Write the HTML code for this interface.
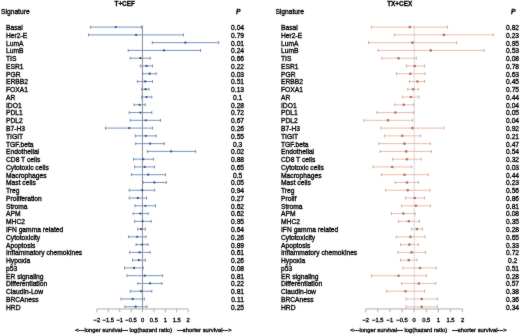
<!DOCTYPE html>
<html><head><meta charset="utf-8"><style>
html,body{margin:0;padding:0;background:#fff;}
svg{display:block;}
text{font-family:"Liberation Sans",sans-serif;fill:#000;stroke:#000;stroke-width:0.32px;}
.tx{font-size:6.7px;}
.tt{font-size:6.4px;font-weight:bold;letter-spacing:0px;}
.ph{font-size:6.7px;font-weight:bold;font-style:italic;}
.tk{font-size:5.8px;}
.xl{font-size:5.85px;}
</style></head><body>
<svg width="520" height="334" viewBox="0 0 520 334">
<defs><filter id="bl" filterUnits="userSpaceOnUse" x="0" y="0" width="520" height="334" color-interpolation-filters="sRGB"><feConvolveMatrix order="3" kernelMatrix="1 2 1 2 32 2 1 2 1" divisor="44" edgeMode="duplicate" preserveAlpha="true"/></filter></defs>
<g filter="url(#bl)">
<rect width="520" height="334" fill="#fff"/>
<text x="124.70" y="5.60" class="tt" text-anchor="middle">T+CEF</text>
<text x="1.00" y="14.20" class="tx">Signature</text>
<text x="238.30" y="14.10" class="ph" text-anchor="middle">P</text>
<text x="6.00" y="30.02" class="tx">Basal</text>
<text x="237.60" y="30.02" class="tx" text-anchor="middle">0.04</text>
<text x="6.00" y="37.79" class="tx">Her2-E</text>
<text x="237.60" y="37.79" class="tx" text-anchor="middle">0.79</text>
<text x="6.00" y="45.56" class="tx">LumA</text>
<text x="237.60" y="45.56" class="tx" text-anchor="middle">0.01</text>
<text x="6.00" y="53.32" class="tx">LumB</text>
<text x="237.60" y="53.32" class="tx" text-anchor="middle">0.24</text>
<text x="6.00" y="61.09" class="tx">TIS</text>
<text x="237.60" y="61.09" class="tx" text-anchor="middle">0.66</text>
<text x="6.00" y="68.86" class="tx">ESR1</text>
<text x="237.60" y="68.86" class="tx" text-anchor="middle">0.22</text>
<text x="6.00" y="76.63" class="tx">PGR</text>
<text x="237.60" y="76.63" class="tx" text-anchor="middle">0.03</text>
<text x="6.00" y="84.40" class="tx">ERBB2</text>
<text x="237.60" y="84.40" class="tx" text-anchor="middle">0.51</text>
<text x="6.00" y="92.16" class="tx">FOXA1</text>
<text x="237.60" y="92.16" class="tx" text-anchor="middle">0.13</text>
<text x="6.00" y="99.93" class="tx">AR</text>
<text x="237.60" y="99.93" class="tx" text-anchor="middle">0.1</text>
<text x="6.00" y="107.70" class="tx">IDO1</text>
<text x="237.60" y="107.70" class="tx" text-anchor="middle">0.28</text>
<text x="6.00" y="115.47" class="tx">PDL1</text>
<text x="237.60" y="115.47" class="tx" text-anchor="middle">0.72</text>
<text x="6.00" y="123.24" class="tx">PDL2</text>
<text x="237.60" y="123.24" class="tx" text-anchor="middle">0.67</text>
<text x="6.00" y="131.00" class="tx">B7-H3</text>
<text x="237.60" y="131.00" class="tx" text-anchor="middle">0.26</text>
<text x="6.00" y="138.77" class="tx">TIGIT</text>
<text x="237.60" y="138.77" class="tx" text-anchor="middle">0.55</text>
<text x="6.00" y="146.54" class="tx">TGF.beta</text>
<text x="237.60" y="146.54" class="tx" text-anchor="middle">0.3</text>
<text x="6.00" y="154.31" class="tx">Endothelial</text>
<text x="237.60" y="154.31" class="tx" text-anchor="middle">0.02</text>
<text x="6.00" y="162.08" class="tx">CD8 T cells</text>
<text x="237.60" y="162.08" class="tx" text-anchor="middle">0.88</text>
<text x="6.00" y="169.84" class="tx">Cytotoxic cells</text>
<text x="237.60" y="169.84" class="tx" text-anchor="middle">0.65</text>
<text x="6.00" y="177.61" class="tx">Macrophages</text>
<text x="237.60" y="177.61" class="tx" text-anchor="middle">0.5</text>
<text x="6.00" y="185.38" class="tx">Mast cells</text>
<text x="237.60" y="185.38" class="tx" text-anchor="middle">0.05</text>
<text x="6.00" y="193.15" class="tx">Treg</text>
<text x="237.60" y="193.15" class="tx" text-anchor="middle">0.94</text>
<text x="6.00" y="200.92" class="tx">Proliferation</text>
<text x="237.60" y="200.92" class="tx" text-anchor="middle">0.27</text>
<text x="6.00" y="208.68" class="tx">Stroma</text>
<text x="237.60" y="208.68" class="tx" text-anchor="middle">0.62</text>
<text x="6.00" y="216.45" class="tx">APM</text>
<text x="237.60" y="216.45" class="tx" text-anchor="middle">0.62</text>
<text x="6.00" y="224.22" class="tx">MHC2</text>
<text x="237.60" y="224.22" class="tx" text-anchor="middle">0.95</text>
<text x="6.00" y="231.99" class="tx">IFN gamma related</text>
<text x="237.60" y="231.99" class="tx" text-anchor="middle">0.64</text>
<text x="6.00" y="239.76" class="tx">Cytotoxicity</text>
<text x="237.60" y="239.76" class="tx" text-anchor="middle">0.26</text>
<text x="6.00" y="247.52" class="tx">Apoptosis</text>
<text x="237.60" y="247.52" class="tx" text-anchor="middle">0.89</text>
<text x="6.00" y="255.29" class="tx">Inflammatory chemokines</text>
<text x="237.60" y="255.29" class="tx" text-anchor="middle">0.61</text>
<text x="6.00" y="263.06" class="tx">Hypoxia</text>
<text x="237.60" y="263.06" class="tx" text-anchor="middle">0.26</text>
<text x="6.00" y="270.83" class="tx">p53</text>
<text x="237.60" y="270.83" class="tx" text-anchor="middle">0.08</text>
<text x="6.00" y="278.60" class="tx">ER signaling</text>
<text x="237.60" y="278.60" class="tx" text-anchor="middle">0.81</text>
<text x="6.00" y="286.36" class="tx">Differentiation</text>
<text x="237.60" y="286.36" class="tx" text-anchor="middle">0.22</text>
<text x="6.00" y="294.13" class="tx">Claudin-Low</text>
<text x="237.60" y="294.13" class="tx" text-anchor="middle">0.81</text>
<text x="6.00" y="301.90" class="tx">BRCAness</text>
<text x="237.60" y="301.90" class="tx" text-anchor="middle">0.11</text>
<text x="6.00" y="309.67" class="tx">HRD</text>
<text x="237.60" y="309.67" class="tx" text-anchor="middle">0.25</text>
<line x1="142.45" y1="25.60" x2="142.45" y2="308.95" stroke="#6c7078" stroke-width="0.8"/>
<line x1="90.40" y1="27.12" x2="141.60" y2="27.12" stroke="#7394c8" stroke-width="1.0"/>
<line x1="90.40" y1="25.62" x2="90.40" y2="28.62" stroke="#6a7488" stroke-width="0.8"/>
<line x1="141.60" y1="25.62" x2="141.60" y2="28.62" stroke="#6a7488" stroke-width="0.8"/>
<circle cx="115.80" cy="27.12" r="1.15" fill="#35508a"/>
<line x1="88.60" y1="34.89" x2="183.40" y2="34.89" stroke="#7394c8" stroke-width="1.0"/>
<line x1="88.60" y1="33.39" x2="88.60" y2="36.39" stroke="#6a7488" stroke-width="0.8"/>
<line x1="183.40" y1="33.39" x2="183.40" y2="36.39" stroke="#6a7488" stroke-width="0.8"/>
<circle cx="136.10" cy="34.89" r="1.15" fill="#35508a"/>
<line x1="152.30" y1="42.66" x2="218.70" y2="42.66" stroke="#7394c8" stroke-width="1.0"/>
<line x1="152.30" y1="41.16" x2="152.30" y2="44.16" stroke="#6a7488" stroke-width="0.8"/>
<line x1="218.70" y1="41.16" x2="218.70" y2="44.16" stroke="#6a7488" stroke-width="0.8"/>
<circle cx="185.40" cy="42.66" r="1.15" fill="#35508a"/>
<line x1="128.20" y1="50.42" x2="200.50" y2="50.42" stroke="#7394c8" stroke-width="1.0"/>
<line x1="128.20" y1="48.92" x2="128.20" y2="51.92" stroke="#6a7488" stroke-width="0.8"/>
<line x1="200.50" y1="48.92" x2="200.50" y2="51.92" stroke="#6a7488" stroke-width="0.8"/>
<circle cx="164.00" cy="50.42" r="1.15" fill="#35508a"/>
<line x1="130.30" y1="58.19" x2="150.30" y2="58.19" stroke="#7394c8" stroke-width="1.0"/>
<line x1="130.30" y1="56.69" x2="130.30" y2="59.69" stroke="#6a7488" stroke-width="0.8"/>
<line x1="150.30" y1="56.69" x2="150.30" y2="59.69" stroke="#6a7488" stroke-width="0.8"/>
<circle cx="140.40" cy="58.19" r="1.15" fill="#35508a"/>
<line x1="140.40" y1="65.96" x2="152.50" y2="65.96" stroke="#7394c8" stroke-width="1.0"/>
<line x1="140.40" y1="64.46" x2="140.40" y2="67.46" stroke="#6a7488" stroke-width="0.8"/>
<line x1="152.50" y1="64.46" x2="152.50" y2="67.46" stroke="#6a7488" stroke-width="0.8"/>
<circle cx="146.50" cy="65.96" r="1.15" fill="#35508a"/>
<line x1="142.60" y1="73.73" x2="156.20" y2="73.73" stroke="#7394c8" stroke-width="1.0"/>
<line x1="142.60" y1="72.23" x2="142.60" y2="75.23" stroke="#6a7488" stroke-width="0.8"/>
<line x1="156.20" y1="72.23" x2="156.20" y2="75.23" stroke="#6a7488" stroke-width="0.8"/>
<circle cx="149.70" cy="73.73" r="1.15" fill="#35508a"/>
<line x1="137.40" y1="81.50" x2="152.50" y2="81.50" stroke="#7394c8" stroke-width="1.0"/>
<line x1="137.40" y1="80.00" x2="137.40" y2="83.00" stroke="#6a7488" stroke-width="0.8"/>
<line x1="152.50" y1="80.00" x2="152.50" y2="83.00" stroke="#6a7488" stroke-width="0.8"/>
<circle cx="145.20" cy="81.50" r="1.15" fill="#35508a"/>
<line x1="141.70" y1="89.26" x2="149.00" y2="89.26" stroke="#7394c8" stroke-width="1.0"/>
<line x1="141.70" y1="87.76" x2="141.70" y2="90.76" stroke="#6a7488" stroke-width="0.8"/>
<line x1="149.00" y1="87.76" x2="149.00" y2="90.76" stroke="#6a7488" stroke-width="0.8"/>
<circle cx="145.60" cy="89.26" r="1.15" fill="#35508a"/>
<line x1="141.70" y1="97.03" x2="151.80" y2="97.03" stroke="#7394c8" stroke-width="1.0"/>
<line x1="141.70" y1="95.53" x2="141.70" y2="98.53" stroke="#6a7488" stroke-width="0.8"/>
<line x1="151.80" y1="95.53" x2="151.80" y2="98.53" stroke="#6a7488" stroke-width="0.8"/>
<circle cx="146.50" cy="97.03" r="1.15" fill="#35508a"/>
<line x1="134.00" y1="104.80" x2="145.20" y2="104.80" stroke="#7394c8" stroke-width="1.0"/>
<line x1="134.00" y1="103.30" x2="134.00" y2="106.30" stroke="#6a7488" stroke-width="0.8"/>
<line x1="145.20" y1="103.30" x2="145.20" y2="106.30" stroke="#6a7488" stroke-width="0.8"/>
<circle cx="139.60" cy="104.80" r="1.15" fill="#35508a"/>
<line x1="129.20" y1="112.57" x2="151.80" y2="112.57" stroke="#7394c8" stroke-width="1.0"/>
<line x1="129.20" y1="111.07" x2="129.20" y2="114.07" stroke="#6a7488" stroke-width="0.8"/>
<line x1="151.80" y1="111.07" x2="151.80" y2="114.07" stroke="#6a7488" stroke-width="0.8"/>
<circle cx="140.40" cy="112.57" r="1.15" fill="#35508a"/>
<line x1="130.30" y1="120.34" x2="160.50" y2="120.34" stroke="#7394c8" stroke-width="1.0"/>
<line x1="130.30" y1="118.84" x2="130.30" y2="121.84" stroke="#6a7488" stroke-width="0.8"/>
<line x1="160.50" y1="118.84" x2="160.50" y2="121.84" stroke="#6a7488" stroke-width="0.8"/>
<circle cx="145.80" cy="120.34" r="1.15" fill="#35508a"/>
<line x1="105.50" y1="128.10" x2="152.50" y2="128.10" stroke="#7394c8" stroke-width="1.0"/>
<line x1="105.50" y1="126.60" x2="105.50" y2="129.60" stroke="#6a7488" stroke-width="0.8"/>
<line x1="152.50" y1="126.60" x2="152.50" y2="129.60" stroke="#6a7488" stroke-width="0.8"/>
<circle cx="129.20" cy="128.10" r="1.15" fill="#35508a"/>
<line x1="135.30" y1="135.87" x2="156.20" y2="135.87" stroke="#7394c8" stroke-width="1.0"/>
<line x1="135.30" y1="134.37" x2="135.30" y2="137.37" stroke="#6a7488" stroke-width="0.8"/>
<line x1="156.20" y1="134.37" x2="156.20" y2="137.37" stroke="#6a7488" stroke-width="0.8"/>
<circle cx="145.80" cy="135.87" r="1.15" fill="#35508a"/>
<line x1="135.70" y1="143.64" x2="164.30" y2="143.64" stroke="#7394c8" stroke-width="1.0"/>
<line x1="135.70" y1="142.14" x2="135.70" y2="145.14" stroke="#6a7488" stroke-width="0.8"/>
<line x1="164.30" y1="142.14" x2="164.30" y2="145.14" stroke="#6a7488" stroke-width="0.8"/>
<circle cx="150.10" cy="143.64" r="1.15" fill="#35508a"/>
<line x1="147.50" y1="151.41" x2="195.60" y2="151.41" stroke="#7394c8" stroke-width="1.0"/>
<line x1="147.50" y1="149.91" x2="147.50" y2="152.91" stroke="#6a7488" stroke-width="0.8"/>
<line x1="195.60" y1="149.91" x2="195.60" y2="152.91" stroke="#6a7488" stroke-width="0.8"/>
<circle cx="171.20" cy="151.41" r="1.15" fill="#35508a"/>
<line x1="133.50" y1="159.18" x2="153.40" y2="159.18" stroke="#7394c8" stroke-width="1.0"/>
<line x1="133.50" y1="157.68" x2="133.50" y2="160.68" stroke="#6a7488" stroke-width="0.8"/>
<line x1="153.40" y1="157.68" x2="153.40" y2="160.68" stroke="#6a7488" stroke-width="0.8"/>
<circle cx="143.20" cy="159.18" r="1.15" fill="#35508a"/>
<line x1="134.60" y1="166.94" x2="154.60" y2="166.94" stroke="#7394c8" stroke-width="1.0"/>
<line x1="134.60" y1="165.44" x2="134.60" y2="168.44" stroke="#6a7488" stroke-width="0.8"/>
<line x1="154.60" y1="165.44" x2="154.60" y2="168.44" stroke="#6a7488" stroke-width="0.8"/>
<circle cx="144.70" cy="166.94" r="1.15" fill="#35508a"/>
<line x1="131.40" y1="174.71" x2="165.40" y2="174.71" stroke="#7394c8" stroke-width="1.0"/>
<line x1="131.40" y1="173.21" x2="131.40" y2="176.21" stroke="#6a7488" stroke-width="0.8"/>
<line x1="165.40" y1="173.21" x2="165.40" y2="176.21" stroke="#6a7488" stroke-width="0.8"/>
<circle cx="148.20" cy="174.71" r="1.15" fill="#35508a"/>
<line x1="143.20" y1="182.48" x2="166.30" y2="182.48" stroke="#7394c8" stroke-width="1.0"/>
<line x1="143.20" y1="180.98" x2="143.20" y2="183.98" stroke="#6a7488" stroke-width="0.8"/>
<line x1="166.30" y1="180.98" x2="166.30" y2="183.98" stroke="#6a7488" stroke-width="0.8"/>
<circle cx="154.40" cy="182.48" r="1.15" fill="#35508a"/>
<line x1="129.20" y1="190.25" x2="154.60" y2="190.25" stroke="#7394c8" stroke-width="1.0"/>
<line x1="129.20" y1="188.75" x2="129.20" y2="191.75" stroke="#6a7488" stroke-width="0.8"/>
<line x1="154.60" y1="188.75" x2="154.60" y2="191.75" stroke="#6a7488" stroke-width="0.8"/>
<circle cx="142.20" cy="190.25" r="1.15" fill="#35508a"/>
<line x1="129.20" y1="198.02" x2="146.50" y2="198.02" stroke="#7394c8" stroke-width="1.0"/>
<line x1="129.20" y1="196.52" x2="129.20" y2="199.52" stroke="#6a7488" stroke-width="0.8"/>
<line x1="146.50" y1="196.52" x2="146.50" y2="199.52" stroke="#6a7488" stroke-width="0.8"/>
<circle cx="137.80" cy="198.02" r="1.15" fill="#35508a"/>
<line x1="135.00" y1="205.78" x2="155.50" y2="205.78" stroke="#7394c8" stroke-width="1.0"/>
<line x1="135.00" y1="204.28" x2="135.00" y2="207.28" stroke="#6a7488" stroke-width="0.8"/>
<line x1="155.50" y1="204.28" x2="155.50" y2="207.28" stroke="#6a7488" stroke-width="0.8"/>
<circle cx="145.40" cy="205.78" r="1.15" fill="#35508a"/>
<line x1="133.10" y1="213.55" x2="148.20" y2="213.55" stroke="#7394c8" stroke-width="1.0"/>
<line x1="133.10" y1="212.05" x2="133.10" y2="215.05" stroke="#6a7488" stroke-width="0.8"/>
<line x1="148.20" y1="212.05" x2="148.20" y2="215.05" stroke="#6a7488" stroke-width="0.8"/>
<circle cx="140.40" cy="213.55" r="1.15" fill="#35508a"/>
<line x1="134.60" y1="221.32" x2="151.20" y2="221.32" stroke="#7394c8" stroke-width="1.0"/>
<line x1="134.60" y1="219.82" x2="134.60" y2="222.82" stroke="#6a7488" stroke-width="0.8"/>
<line x1="151.20" y1="219.82" x2="151.20" y2="222.82" stroke="#6a7488" stroke-width="0.8"/>
<circle cx="142.60" cy="221.32" r="1.15" fill="#35508a"/>
<line x1="137.80" y1="229.09" x2="145.40" y2="229.09" stroke="#7394c8" stroke-width="1.0"/>
<line x1="137.80" y1="227.59" x2="137.80" y2="230.59" stroke="#6a7488" stroke-width="0.8"/>
<line x1="145.40" y1="227.59" x2="145.40" y2="230.59" stroke="#6a7488" stroke-width="0.8"/>
<circle cx="141.20" cy="229.09" r="1.15" fill="#35508a"/>
<line x1="128.60" y1="236.86" x2="146.00" y2="236.86" stroke="#7394c8" stroke-width="1.0"/>
<line x1="128.60" y1="235.36" x2="128.60" y2="238.36" stroke="#6a7488" stroke-width="0.8"/>
<line x1="146.00" y1="235.36" x2="146.00" y2="238.36" stroke="#6a7488" stroke-width="0.8"/>
<circle cx="137.20" cy="236.86" r="1.15" fill="#35508a"/>
<line x1="136.10" y1="244.62" x2="148.00" y2="244.62" stroke="#7394c8" stroke-width="1.0"/>
<line x1="136.10" y1="243.12" x2="136.10" y2="246.12" stroke="#6a7488" stroke-width="0.8"/>
<line x1="148.00" y1="243.12" x2="148.00" y2="246.12" stroke="#6a7488" stroke-width="0.8"/>
<circle cx="142.20" cy="244.62" r="1.15" fill="#35508a"/>
<line x1="129.70" y1="252.39" x2="150.10" y2="252.39" stroke="#7394c8" stroke-width="1.0"/>
<line x1="129.70" y1="250.89" x2="129.70" y2="253.89" stroke="#6a7488" stroke-width="0.8"/>
<line x1="150.10" y1="250.89" x2="150.10" y2="253.89" stroke="#6a7488" stroke-width="0.8"/>
<circle cx="139.60" cy="252.39" r="1.15" fill="#35508a"/>
<line x1="132.50" y1="260.16" x2="145.40" y2="260.16" stroke="#7394c8" stroke-width="1.0"/>
<line x1="132.50" y1="258.66" x2="132.50" y2="261.66" stroke="#6a7488" stroke-width="0.8"/>
<line x1="145.40" y1="258.66" x2="145.40" y2="261.66" stroke="#6a7488" stroke-width="0.8"/>
<circle cx="138.90" cy="260.16" r="1.15" fill="#35508a"/>
<line x1="124.50" y1="267.93" x2="143.20" y2="267.93" stroke="#7394c8" stroke-width="1.0"/>
<line x1="124.50" y1="266.43" x2="124.50" y2="269.43" stroke="#6a7488" stroke-width="0.8"/>
<line x1="143.20" y1="266.43" x2="143.20" y2="269.43" stroke="#6a7488" stroke-width="0.8"/>
<circle cx="134.00" cy="267.93" r="1.15" fill="#35508a"/>
<line x1="127.10" y1="275.70" x2="162.60" y2="275.70" stroke="#7394c8" stroke-width="1.0"/>
<line x1="127.10" y1="274.20" x2="127.10" y2="277.20" stroke="#6a7488" stroke-width="0.8"/>
<line x1="162.60" y1="274.20" x2="162.60" y2="277.20" stroke="#6a7488" stroke-width="0.8"/>
<circle cx="144.70" cy="275.70" r="1.15" fill="#35508a"/>
<line x1="137.80" y1="283.46" x2="162.00" y2="283.46" stroke="#7394c8" stroke-width="1.0"/>
<line x1="137.80" y1="281.96" x2="137.80" y2="284.96" stroke="#6a7488" stroke-width="0.8"/>
<line x1="162.00" y1="281.96" x2="162.00" y2="284.96" stroke="#6a7488" stroke-width="0.8"/>
<circle cx="150.10" cy="283.46" r="1.15" fill="#35508a"/>
<line x1="130.30" y1="291.23" x2="151.80" y2="291.23" stroke="#7394c8" stroke-width="1.0"/>
<line x1="130.30" y1="289.73" x2="130.30" y2="292.73" stroke="#6a7488" stroke-width="0.8"/>
<line x1="151.80" y1="289.73" x2="151.80" y2="292.73" stroke="#6a7488" stroke-width="0.8"/>
<circle cx="141.30" cy="291.23" r="1.15" fill="#35508a"/>
<line x1="121.00" y1="299.00" x2="144.30" y2="299.00" stroke="#7394c8" stroke-width="1.0"/>
<line x1="121.00" y1="297.50" x2="121.00" y2="300.50" stroke="#6a7488" stroke-width="0.8"/>
<line x1="144.30" y1="297.50" x2="144.30" y2="300.50" stroke="#6a7488" stroke-width="0.8"/>
<circle cx="132.70" cy="299.00" r="1.15" fill="#35508a"/>
<line x1="124.90" y1="306.77" x2="146.90" y2="306.77" stroke="#7394c8" stroke-width="1.0"/>
<line x1="124.90" y1="305.27" x2="124.90" y2="308.27" stroke="#6a7488" stroke-width="0.8"/>
<line x1="146.90" y1="305.27" x2="146.90" y2="308.27" stroke="#6a7488" stroke-width="0.8"/>
<circle cx="135.70" cy="306.77" r="1.15" fill="#35508a"/>
<line x1="96.90" y1="308.95" x2="188.10" y2="308.95" stroke="#999" stroke-width="0.8"/>
<line x1="96.90" y1="308.95" x2="96.90" y2="312.25" stroke="#999" stroke-width="0.8"/>
<text x="96.90" y="321.60" class="tk" text-anchor="middle">&#8722;2</text>
<line x1="108.30" y1="308.95" x2="108.30" y2="312.25" stroke="#999" stroke-width="0.8"/>
<text x="108.30" y="321.60" class="tk" text-anchor="middle">&#8722;1.5</text>
<line x1="119.70" y1="308.95" x2="119.70" y2="312.25" stroke="#999" stroke-width="0.8"/>
<text x="119.70" y="321.60" class="tk" text-anchor="middle">&#8722;1</text>
<line x1="131.10" y1="308.95" x2="131.10" y2="312.25" stroke="#999" stroke-width="0.8"/>
<text x="131.10" y="321.60" class="tk" text-anchor="middle">&#8722;0.5</text>
<line x1="142.50" y1="308.95" x2="142.50" y2="312.25" stroke="#999" stroke-width="0.8"/>
<text x="142.50" y="321.60" class="tk" text-anchor="middle">0</text>
<line x1="153.90" y1="308.95" x2="153.90" y2="312.25" stroke="#999" stroke-width="0.8"/>
<text x="153.90" y="321.60" class="tk" text-anchor="middle">0.5</text>
<line x1="165.30" y1="308.95" x2="165.30" y2="312.25" stroke="#999" stroke-width="0.8"/>
<text x="165.30" y="321.60" class="tk" text-anchor="middle">1</text>
<line x1="176.70" y1="308.95" x2="176.70" y2="312.25" stroke="#999" stroke-width="0.8"/>
<text x="176.70" y="321.60" class="tk" text-anchor="middle">1.5</text>
<line x1="188.10" y1="308.95" x2="188.10" y2="312.25" stroke="#999" stroke-width="0.8"/>
<text x="188.10" y="321.60" class="tk" text-anchor="middle">2</text>
<text x="75.20" y="331.50" class="xl" xml:space="preserve">&lt;---longer survival--- log(hazard ratio)   ---shorter survival---&gt;</text>
<text x="399.70" y="5.60" class="tt" text-anchor="middle">TX+CEX</text>
<text x="275.40" y="14.20" class="tx">Signature</text>
<text x="513.30" y="14.10" class="ph" text-anchor="middle">P</text>
<text x="281.00" y="30.02" class="tx">Basal</text>
<text x="512.60" y="30.02" class="tx" text-anchor="middle">0.82</text>
<text x="281.00" y="37.79" class="tx">Her2-E</text>
<text x="512.60" y="37.79" class="tx" text-anchor="middle">0.23</text>
<text x="281.00" y="45.56" class="tx">LumA</text>
<text x="512.60" y="45.56" class="tx" text-anchor="middle">0.95</text>
<text x="281.00" y="53.32" class="tx">LumB</text>
<text x="512.60" y="53.32" class="tx" text-anchor="middle">0.53</text>
<text x="281.00" y="61.09" class="tx">TIS</text>
<text x="512.60" y="61.09" class="tx" text-anchor="middle">0.08</text>
<text x="281.00" y="68.86" class="tx">ESR1</text>
<text x="512.60" y="68.86" class="tx" text-anchor="middle">0.78</text>
<text x="281.00" y="76.63" class="tx">PGR</text>
<text x="512.60" y="76.63" class="tx" text-anchor="middle">0.63</text>
<text x="281.00" y="84.40" class="tx">ERBB2</text>
<text x="512.60" y="84.40" class="tx" text-anchor="middle">0.45</text>
<text x="281.00" y="92.16" class="tx">FOXA1</text>
<text x="512.60" y="92.16" class="tx" text-anchor="middle">0.75</text>
<text x="281.00" y="99.93" class="tx">AR</text>
<text x="512.60" y="99.93" class="tx" text-anchor="middle">0.44</text>
<text x="281.00" y="107.70" class="tx">IDO1</text>
<text x="512.60" y="107.70" class="tx" text-anchor="middle">0.04</text>
<text x="281.00" y="115.47" class="tx">PDL1</text>
<text x="512.60" y="115.47" class="tx" text-anchor="middle">0.05</text>
<text x="281.00" y="123.24" class="tx">PDL2</text>
<text x="512.60" y="123.24" class="tx" text-anchor="middle">0.04</text>
<text x="281.00" y="131.00" class="tx">B7-H3</text>
<text x="512.60" y="131.00" class="tx" text-anchor="middle">0.92</text>
<text x="281.00" y="138.77" class="tx">TIGIT</text>
<text x="512.60" y="138.77" class="tx" text-anchor="middle">0.21</text>
<text x="281.00" y="146.54" class="tx">TGF.beta</text>
<text x="512.60" y="146.54" class="tx" text-anchor="middle">0.47</text>
<text x="281.00" y="154.31" class="tx">Endothelial</text>
<text x="512.60" y="154.31" class="tx" text-anchor="middle">0.54</text>
<text x="281.00" y="162.08" class="tx">CD8 T cells</text>
<text x="512.60" y="162.08" class="tx" text-anchor="middle">0.32</text>
<text x="281.00" y="169.84" class="tx">Cytotoxic cells</text>
<text x="512.60" y="169.84" class="tx" text-anchor="middle">0.03</text>
<text x="281.00" y="177.61" class="tx">Macrophages</text>
<text x="512.60" y="177.61" class="tx" text-anchor="middle">0.44</text>
<text x="281.00" y="185.38" class="tx">Mast cells</text>
<text x="512.60" y="185.38" class="tx" text-anchor="middle">0.23</text>
<text x="281.00" y="193.15" class="tx">Treg</text>
<text x="512.60" y="193.15" class="tx" text-anchor="middle">0.56</text>
<text x="281.00" y="200.92" class="tx">Prolif</text>
<text x="512.60" y="200.92" class="tx" text-anchor="middle">0.86</text>
<text x="281.00" y="208.68" class="tx">Stroma</text>
<text x="512.60" y="208.68" class="tx" text-anchor="middle">0.81</text>
<text x="281.00" y="216.45" class="tx">APM</text>
<text x="512.60" y="216.45" class="tx" text-anchor="middle">0.08</text>
<text x="281.00" y="224.22" class="tx">MHC2</text>
<text x="512.60" y="224.22" class="tx" text-anchor="middle">0.35</text>
<text x="281.00" y="231.99" class="tx">IFN gamma related</text>
<text x="512.60" y="231.99" class="tx" text-anchor="middle">0.28</text>
<text x="281.00" y="239.76" class="tx">Cytotoxicity</text>
<text x="512.60" y="239.76" class="tx" text-anchor="middle">0.65</text>
<text x="281.00" y="247.52" class="tx">Apoptosis</text>
<text x="512.60" y="247.52" class="tx" text-anchor="middle">0.33</text>
<text x="281.00" y="255.29" class="tx">Inflammatory chemokines</text>
<text x="512.60" y="255.29" class="tx" text-anchor="middle">0.72</text>
<text x="281.00" y="263.06" class="tx">Hypoxia</text>
<text x="512.60" y="263.06" class="tx" text-anchor="middle">0.2</text>
<text x="281.00" y="270.83" class="tx">p53</text>
<text x="512.60" y="270.83" class="tx" text-anchor="middle">0.51</text>
<text x="281.00" y="278.60" class="tx">ER signaling</text>
<text x="512.60" y="278.60" class="tx" text-anchor="middle">0.28</text>
<text x="281.00" y="286.36" class="tx">Differentiation</text>
<text x="512.60" y="286.36" class="tx" text-anchor="middle">0.57</text>
<text x="281.00" y="294.13" class="tx">Claudin-low</text>
<text x="512.60" y="294.13" class="tx" text-anchor="middle">0.38</text>
<text x="281.00" y="301.90" class="tx">BRCAness</text>
<text x="512.60" y="301.90" class="tx" text-anchor="middle">0.36</text>
<text x="281.00" y="309.67" class="tx">HRD</text>
<text x="512.60" y="309.67" class="tx" text-anchor="middle">0.34</text>
<line x1="414.20" y1="25.60" x2="414.20" y2="308.95" stroke="#b4bccc" stroke-width="0.6"/>
<line x1="371.40" y1="27.12" x2="447.50" y2="27.12" stroke="#eeae94" stroke-width="0.85"/>
<line x1="371.40" y1="25.62" x2="371.40" y2="28.62" stroke="#b0a098" stroke-width="0.8"/>
<line x1="447.50" y1="25.62" x2="447.50" y2="28.62" stroke="#b0a098" stroke-width="0.8"/>
<circle cx="409.80" cy="27.12" r="1.3" fill="#b0705e"/>
<line x1="394.40" y1="34.89" x2="493.30" y2="34.89" stroke="#eeae94" stroke-width="0.85"/>
<line x1="394.40" y1="33.39" x2="394.40" y2="36.39" stroke="#b0a098" stroke-width="0.8"/>
<line x1="493.30" y1="33.39" x2="493.30" y2="36.39" stroke="#b0a098" stroke-width="0.8"/>
<circle cx="443.90" cy="34.89" r="1.3" fill="#b0705e"/>
<line x1="368.50" y1="42.66" x2="456.70" y2="42.66" stroke="#eeae94" stroke-width="0.85"/>
<line x1="368.50" y1="41.16" x2="368.50" y2="44.16" stroke="#b0a098" stroke-width="0.8"/>
<line x1="456.70" y1="41.16" x2="456.70" y2="44.16" stroke="#b0a098" stroke-width="0.8"/>
<circle cx="412.40" cy="42.66" r="1.3" fill="#b0705e"/>
<line x1="378.00" y1="50.42" x2="484.00" y2="50.42" stroke="#eeae94" stroke-width="0.85"/>
<line x1="378.00" y1="48.92" x2="378.00" y2="51.92" stroke="#b0a098" stroke-width="0.8"/>
<line x1="484.00" y1="48.92" x2="484.00" y2="51.92" stroke="#b0a098" stroke-width="0.8"/>
<circle cx="430.80" cy="50.42" r="1.3" fill="#b0705e"/>
<line x1="381.80" y1="58.19" x2="416.30" y2="58.19" stroke="#eeae94" stroke-width="0.85"/>
<line x1="381.80" y1="56.69" x2="381.80" y2="59.69" stroke="#b0a098" stroke-width="0.8"/>
<line x1="416.30" y1="56.69" x2="416.30" y2="59.69" stroke="#b0a098" stroke-width="0.8"/>
<circle cx="398.60" cy="58.19" r="1.3" fill="#b0705e"/>
<line x1="406.60" y1="65.96" x2="424.50" y2="65.96" stroke="#eeae94" stroke-width="0.85"/>
<line x1="406.60" y1="64.46" x2="406.60" y2="67.46" stroke="#b0a098" stroke-width="0.8"/>
<line x1="424.50" y1="64.46" x2="424.50" y2="67.46" stroke="#b0a098" stroke-width="0.8"/>
<circle cx="414.80" cy="65.96" r="1.3" fill="#b0705e"/>
<line x1="396.50" y1="73.73" x2="424.90" y2="73.73" stroke="#eeae94" stroke-width="0.85"/>
<line x1="396.50" y1="72.23" x2="396.50" y2="75.23" stroke="#b0a098" stroke-width="0.8"/>
<line x1="424.90" y1="72.23" x2="424.90" y2="75.23" stroke="#b0a098" stroke-width="0.8"/>
<circle cx="410.30" cy="73.73" r="1.3" fill="#b0705e"/>
<line x1="409.40" y1="81.50" x2="424.50" y2="81.50" stroke="#eeae94" stroke-width="0.85"/>
<line x1="409.40" y1="80.00" x2="409.40" y2="83.00" stroke="#b0a098" stroke-width="0.8"/>
<line x1="424.50" y1="80.00" x2="424.50" y2="83.00" stroke="#b0a098" stroke-width="0.8"/>
<circle cx="417.40" cy="81.50" r="1.3" fill="#b0705e"/>
<line x1="407.70" y1="89.26" x2="418.50" y2="89.26" stroke="#eeae94" stroke-width="0.85"/>
<line x1="407.70" y1="87.76" x2="407.70" y2="90.76" stroke="#b0a098" stroke-width="0.8"/>
<line x1="418.50" y1="87.76" x2="418.50" y2="90.76" stroke="#b0a098" stroke-width="0.8"/>
<circle cx="413.10" cy="89.26" r="1.3" fill="#b0705e"/>
<line x1="402.70" y1="97.03" x2="418.90" y2="97.03" stroke="#eeae94" stroke-width="0.85"/>
<line x1="402.70" y1="95.53" x2="402.70" y2="98.53" stroke="#b0a098" stroke-width="0.8"/>
<line x1="418.90" y1="95.53" x2="418.90" y2="98.53" stroke="#b0a098" stroke-width="0.8"/>
<circle cx="410.90" cy="97.03" r="1.3" fill="#b0705e"/>
<line x1="394.80" y1="104.80" x2="413.50" y2="104.80" stroke="#eeae94" stroke-width="0.85"/>
<line x1="394.80" y1="103.30" x2="394.80" y2="106.30" stroke="#b0a098" stroke-width="0.8"/>
<line x1="413.50" y1="103.30" x2="413.50" y2="106.30" stroke="#b0a098" stroke-width="0.8"/>
<circle cx="403.80" cy="104.80" r="1.3" fill="#b0705e"/>
<line x1="376.90" y1="112.57" x2="413.70" y2="112.57" stroke="#eeae94" stroke-width="0.85"/>
<line x1="376.90" y1="111.07" x2="376.90" y2="114.07" stroke="#b0a098" stroke-width="0.8"/>
<line x1="413.70" y1="111.07" x2="413.70" y2="114.07" stroke="#b0a098" stroke-width="0.8"/>
<circle cx="395.40" cy="112.57" r="1.3" fill="#b0705e"/>
<line x1="364.00" y1="120.34" x2="412.40" y2="120.34" stroke="#eeae94" stroke-width="0.85"/>
<line x1="364.00" y1="118.84" x2="364.00" y2="121.84" stroke="#b0a098" stroke-width="0.8"/>
<line x1="412.40" y1="118.84" x2="412.40" y2="121.84" stroke="#b0a098" stroke-width="0.8"/>
<circle cx="387.90" cy="120.34" r="1.3" fill="#b0705e"/>
<line x1="380.80" y1="128.10" x2="443.90" y2="128.10" stroke="#eeae94" stroke-width="0.85"/>
<line x1="380.80" y1="126.60" x2="380.80" y2="129.60" stroke="#b0a098" stroke-width="0.8"/>
<line x1="443.90" y1="126.60" x2="443.90" y2="129.60" stroke="#b0a098" stroke-width="0.8"/>
<circle cx="412.40" cy="128.10" r="1.3" fill="#b0705e"/>
<line x1="384.40" y1="135.87" x2="420.60" y2="135.87" stroke="#eeae94" stroke-width="0.85"/>
<line x1="384.40" y1="134.37" x2="384.40" y2="137.37" stroke="#b0a098" stroke-width="0.8"/>
<line x1="420.60" y1="134.37" x2="420.60" y2="137.37" stroke="#b0a098" stroke-width="0.8"/>
<circle cx="402.30" cy="135.87" r="1.3" fill="#b0705e"/>
<line x1="379.00" y1="143.64" x2="430.30" y2="143.64" stroke="#eeae94" stroke-width="0.85"/>
<line x1="379.00" y1="142.14" x2="379.00" y2="145.14" stroke="#b0a098" stroke-width="0.8"/>
<line x1="430.30" y1="142.14" x2="430.30" y2="145.14" stroke="#b0a098" stroke-width="0.8"/>
<circle cx="404.50" cy="143.64" r="1.3" fill="#b0705e"/>
<line x1="380.30" y1="151.41" x2="431.40" y2="151.41" stroke="#eeae94" stroke-width="0.85"/>
<line x1="380.30" y1="149.91" x2="380.30" y2="152.91" stroke="#b0a098" stroke-width="0.8"/>
<line x1="431.40" y1="149.91" x2="431.40" y2="152.91" stroke="#b0a098" stroke-width="0.8"/>
<circle cx="406.20" cy="151.41" r="1.3" fill="#b0705e"/>
<line x1="392.60" y1="159.18" x2="421.30" y2="159.18" stroke="#eeae94" stroke-width="0.85"/>
<line x1="392.60" y1="157.68" x2="392.60" y2="160.68" stroke="#b0a098" stroke-width="0.8"/>
<line x1="421.30" y1="157.68" x2="421.30" y2="160.68" stroke="#b0a098" stroke-width="0.8"/>
<circle cx="407.00" cy="159.18" r="1.3" fill="#b0705e"/>
<line x1="373.20" y1="166.94" x2="411.60" y2="166.94" stroke="#eeae94" stroke-width="0.85"/>
<line x1="373.20" y1="165.44" x2="373.20" y2="168.44" stroke="#b0a098" stroke-width="0.8"/>
<line x1="411.60" y1="165.44" x2="411.60" y2="168.44" stroke="#b0a098" stroke-width="0.8"/>
<circle cx="392.20" cy="166.94" r="1.3" fill="#b0705e"/>
<line x1="381.40" y1="174.71" x2="428.20" y2="174.71" stroke="#eeae94" stroke-width="0.85"/>
<line x1="381.40" y1="173.21" x2="381.40" y2="176.21" stroke="#b0a098" stroke-width="0.8"/>
<line x1="428.20" y1="173.21" x2="428.20" y2="176.21" stroke="#b0a098" stroke-width="0.8"/>
<circle cx="404.50" cy="174.71" r="1.3" fill="#b0705e"/>
<line x1="395.20" y1="182.48" x2="418.50" y2="182.48" stroke="#eeae94" stroke-width="0.85"/>
<line x1="395.20" y1="180.98" x2="395.20" y2="183.98" stroke="#b0a098" stroke-width="0.8"/>
<line x1="418.50" y1="180.98" x2="418.50" y2="183.98" stroke="#b0a098" stroke-width="0.8"/>
<circle cx="407.00" cy="182.48" r="1.3" fill="#b0705e"/>
<line x1="385.70" y1="190.25" x2="429.90" y2="190.25" stroke="#eeae94" stroke-width="0.85"/>
<line x1="385.70" y1="188.75" x2="385.70" y2="191.75" stroke="#b0a098" stroke-width="0.8"/>
<line x1="429.90" y1="188.75" x2="429.90" y2="191.75" stroke="#b0a098" stroke-width="0.8"/>
<circle cx="407.70" cy="190.25" r="1.3" fill="#b0705e"/>
<line x1="405.50" y1="198.02" x2="424.50" y2="198.02" stroke="#eeae94" stroke-width="0.85"/>
<line x1="405.50" y1="196.52" x2="405.50" y2="199.52" stroke="#b0a098" stroke-width="0.8"/>
<line x1="424.50" y1="196.52" x2="424.50" y2="199.52" stroke="#b0a098" stroke-width="0.8"/>
<circle cx="414.80" cy="198.02" r="1.3" fill="#b0705e"/>
<line x1="401.70" y1="205.78" x2="430.30" y2="205.78" stroke="#eeae94" stroke-width="0.85"/>
<line x1="401.70" y1="204.28" x2="401.70" y2="207.28" stroke="#b0a098" stroke-width="0.8"/>
<line x1="430.30" y1="204.28" x2="430.30" y2="207.28" stroke="#b0a098" stroke-width="0.8"/>
<circle cx="415.90" cy="205.78" r="1.3" fill="#b0705e"/>
<line x1="391.50" y1="213.55" x2="415.20" y2="213.55" stroke="#eeae94" stroke-width="0.85"/>
<line x1="391.50" y1="212.05" x2="391.50" y2="215.05" stroke="#b0a098" stroke-width="0.8"/>
<line x1="415.20" y1="212.05" x2="415.20" y2="215.05" stroke="#b0a098" stroke-width="0.8"/>
<circle cx="403.40" cy="213.55" r="1.3" fill="#b0705e"/>
<line x1="398.60" y1="221.32" x2="419.50" y2="221.32" stroke="#eeae94" stroke-width="0.85"/>
<line x1="398.60" y1="219.82" x2="398.60" y2="222.82" stroke="#b0a098" stroke-width="0.8"/>
<line x1="419.50" y1="219.82" x2="419.50" y2="222.82" stroke="#b0a098" stroke-width="0.8"/>
<circle cx="408.80" cy="221.32" r="1.3" fill="#b0705e"/>
<line x1="411.60" y1="229.09" x2="422.30" y2="229.09" stroke="#eeae94" stroke-width="0.85"/>
<line x1="411.60" y1="227.59" x2="411.60" y2="230.59" stroke="#b0a098" stroke-width="0.8"/>
<line x1="422.30" y1="227.59" x2="422.30" y2="230.59" stroke="#b0a098" stroke-width="0.8"/>
<circle cx="417.00" cy="229.09" r="1.3" fill="#b0705e"/>
<line x1="396.30" y1="236.86" x2="424.90" y2="236.86" stroke="#eeae94" stroke-width="0.85"/>
<line x1="396.30" y1="235.36" x2="396.30" y2="238.36" stroke="#b0a098" stroke-width="0.8"/>
<line x1="424.90" y1="235.36" x2="424.90" y2="238.36" stroke="#b0a098" stroke-width="0.8"/>
<circle cx="410.50" cy="236.86" r="1.3" fill="#b0705e"/>
<line x1="400.60" y1="244.62" x2="418.50" y2="244.62" stroke="#eeae94" stroke-width="0.85"/>
<line x1="400.60" y1="243.12" x2="400.60" y2="246.12" stroke="#b0a098" stroke-width="0.8"/>
<line x1="418.50" y1="243.12" x2="418.50" y2="246.12" stroke="#b0a098" stroke-width="0.8"/>
<circle cx="409.40" cy="244.62" r="1.3" fill="#b0705e"/>
<line x1="398.00" y1="252.39" x2="425.40" y2="252.39" stroke="#eeae94" stroke-width="0.85"/>
<line x1="398.00" y1="250.89" x2="398.00" y2="253.89" stroke="#b0a098" stroke-width="0.8"/>
<line x1="425.40" y1="250.89" x2="425.40" y2="253.89" stroke="#b0a098" stroke-width="0.8"/>
<circle cx="411.60" cy="252.39" r="1.3" fill="#b0705e"/>
<line x1="400.60" y1="260.16" x2="417.00" y2="260.16" stroke="#eeae94" stroke-width="0.85"/>
<line x1="400.60" y1="258.66" x2="400.60" y2="261.66" stroke="#b0a098" stroke-width="0.8"/>
<line x1="417.00" y1="258.66" x2="417.00" y2="261.66" stroke="#b0a098" stroke-width="0.8"/>
<circle cx="408.80" cy="260.16" r="1.3" fill="#b0705e"/>
<line x1="403.00" y1="267.93" x2="436.30" y2="267.93" stroke="#eeae94" stroke-width="0.85"/>
<line x1="403.00" y1="266.43" x2="403.00" y2="269.43" stroke="#b0a098" stroke-width="0.8"/>
<line x1="436.30" y1="266.43" x2="436.30" y2="269.43" stroke="#b0a098" stroke-width="0.8"/>
<circle cx="420.00" cy="267.93" r="1.3" fill="#b0705e"/>
<line x1="371.50" y1="275.70" x2="426.50" y2="275.70" stroke="#eeae94" stroke-width="0.85"/>
<line x1="371.50" y1="274.20" x2="371.50" y2="277.20" stroke="#b0a098" stroke-width="0.8"/>
<line x1="426.50" y1="274.20" x2="426.50" y2="277.20" stroke="#b0a098" stroke-width="0.8"/>
<circle cx="398.60" cy="275.70" r="1.3" fill="#b0705e"/>
<line x1="401.70" y1="283.46" x2="435.70" y2="283.46" stroke="#eeae94" stroke-width="0.85"/>
<line x1="401.70" y1="281.96" x2="401.70" y2="284.96" stroke="#b0a098" stroke-width="0.8"/>
<line x1="435.70" y1="281.96" x2="435.70" y2="284.96" stroke="#b0a098" stroke-width="0.8"/>
<circle cx="418.90" cy="283.46" r="1.3" fill="#b0705e"/>
<line x1="386.60" y1="291.23" x2="424.50" y2="291.23" stroke="#eeae94" stroke-width="0.85"/>
<line x1="386.60" y1="289.73" x2="386.60" y2="292.73" stroke="#b0a098" stroke-width="0.8"/>
<line x1="424.50" y1="289.73" x2="424.50" y2="292.73" stroke="#b0a098" stroke-width="0.8"/>
<circle cx="405.50" cy="291.23" r="1.3" fill="#b0705e"/>
<line x1="406.00" y1="299.00" x2="437.40" y2="299.00" stroke="#eeae94" stroke-width="0.85"/>
<line x1="406.00" y1="297.50" x2="406.00" y2="300.50" stroke="#b0a098" stroke-width="0.8"/>
<line x1="437.40" y1="297.50" x2="437.40" y2="300.50" stroke="#b0a098" stroke-width="0.8"/>
<circle cx="421.70" cy="299.00" r="1.3" fill="#b0705e"/>
<line x1="406.00" y1="306.77" x2="437.40" y2="306.77" stroke="#eeae94" stroke-width="0.85"/>
<line x1="406.00" y1="305.27" x2="406.00" y2="308.27" stroke="#b0a098" stroke-width="0.8"/>
<line x1="437.40" y1="305.27" x2="437.40" y2="308.27" stroke="#b0a098" stroke-width="0.8"/>
<circle cx="421.70" cy="306.77" r="1.3" fill="#b0705e"/>
<line x1="365.70" y1="308.95" x2="462.58" y2="308.95" stroke="#999" stroke-width="0.8"/>
<line x1="365.70" y1="308.95" x2="365.70" y2="312.25" stroke="#999" stroke-width="0.8"/>
<text x="365.70" y="321.60" class="tk" text-anchor="middle">&#8722;2</text>
<line x1="377.81" y1="308.95" x2="377.81" y2="312.25" stroke="#999" stroke-width="0.8"/>
<text x="377.81" y="321.60" class="tk" text-anchor="middle">&#8722;1.5</text>
<line x1="389.92" y1="308.95" x2="389.92" y2="312.25" stroke="#999" stroke-width="0.8"/>
<text x="389.92" y="321.60" class="tk" text-anchor="middle">&#8722;1</text>
<line x1="402.03" y1="308.95" x2="402.03" y2="312.25" stroke="#999" stroke-width="0.8"/>
<text x="402.03" y="321.60" class="tk" text-anchor="middle">&#8722;0.5</text>
<line x1="414.14" y1="308.95" x2="414.14" y2="312.25" stroke="#999" stroke-width="0.8"/>
<text x="414.14" y="321.60" class="tk" text-anchor="middle">0</text>
<line x1="426.25" y1="308.95" x2="426.25" y2="312.25" stroke="#999" stroke-width="0.8"/>
<text x="426.25" y="321.60" class="tk" text-anchor="middle">0.5</text>
<line x1="438.36" y1="308.95" x2="438.36" y2="312.25" stroke="#999" stroke-width="0.8"/>
<text x="438.36" y="321.60" class="tk" text-anchor="middle">1</text>
<line x1="450.47" y1="308.95" x2="450.47" y2="312.25" stroke="#999" stroke-width="0.8"/>
<text x="450.47" y="321.60" class="tk" text-anchor="middle">1.5</text>
<line x1="462.58" y1="308.95" x2="462.58" y2="312.25" stroke="#999" stroke-width="0.8"/>
<text x="462.58" y="321.60" class="tk" text-anchor="middle">2</text>
<text x="350.20" y="331.50" class="xl" xml:space="preserve">&lt;---longer survival--- log(hazard ratio)   ---shorter survival---&gt;</text>
</g>
</svg>
</body></html>
